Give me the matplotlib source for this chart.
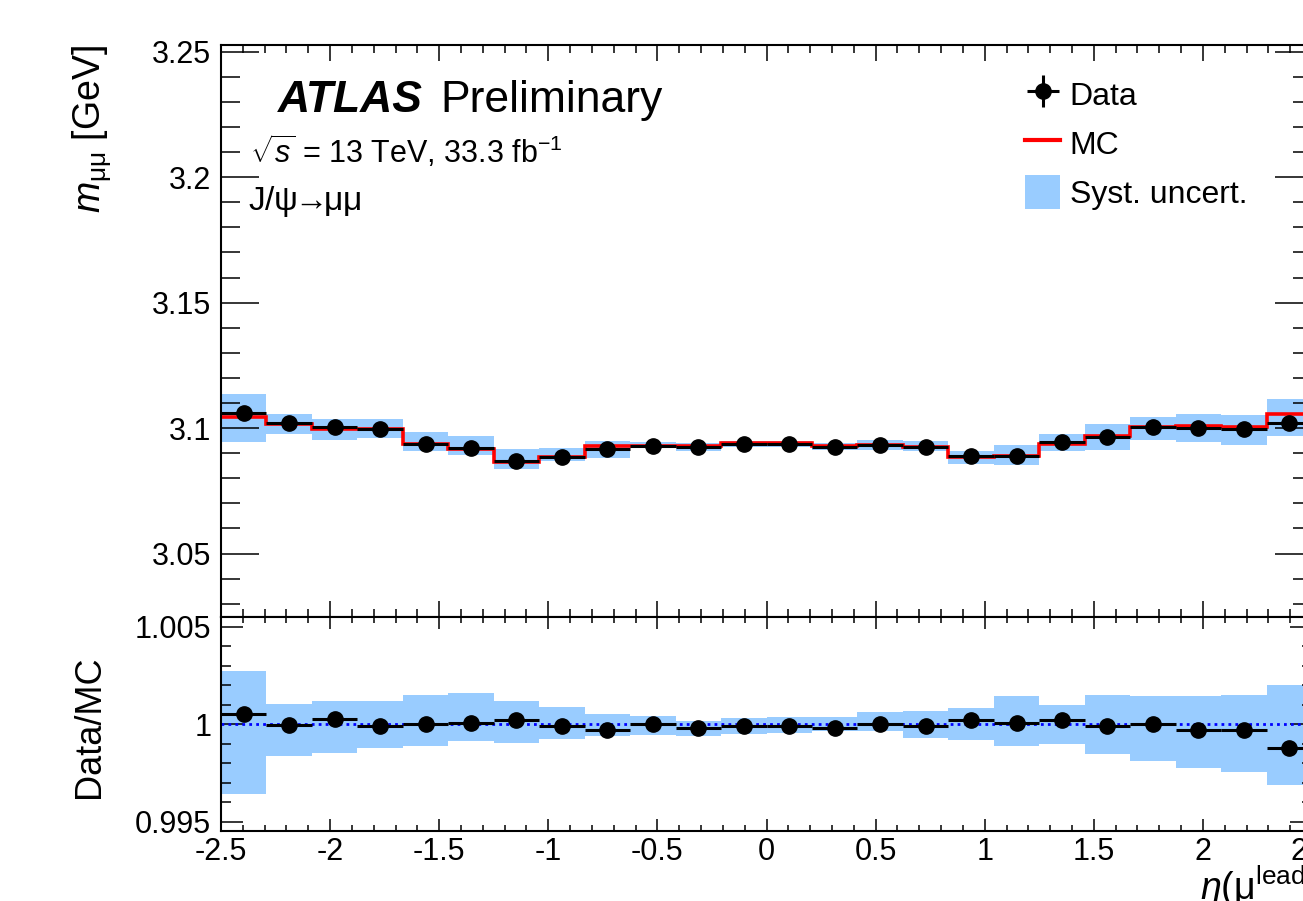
import numpy as np
import matplotlib
matplotlib.use("Agg")
import matplotlib.pyplot as plt
from matplotlib.lines import Line2D
from matplotlib.patches import Patch
from matplotlib.ticker import MultipleLocator

plt.rcParams['font.family'] = ['Liberation Sans', 'DejaVu Sans']
plt.rcParams['mathtext.fontset'] = 'custom'
plt.rcParams['mathtext.rm'] = 'Liberation Sans'
plt.rcParams['mathtext.it'] = 'Liberation Sans:italic'
plt.rcParams['mathtext.bf'] = 'Liberation Sans:bold'

# ---------------- data ----------------
bin_edges = np.linspace(-2.5, 2.5, 25)

data_vals = [3.1060, 3.1020, 3.1004, 3.0995, 3.0937, 3.0920, 3.0870, 3.0883,
             3.0918, 3.0930, 3.0923, 3.0937, 3.0937, 3.0923, 3.0933, 3.0923,
             3.0890, 3.0890, 3.0945, 3.0966, 3.1006, 3.1000, 3.0997, 3.1020]

mc_vals = [3.1043, 3.1018, 3.0995, 3.0997, 3.0936, 3.0917, 3.0864, 3.0885,
           3.0927, 3.0930, 3.0929, 3.0940, 3.0940, 3.0929, 3.0932, 3.0926,
           3.0884, 3.0887, 3.0938, 3.0969, 3.1005, 3.1009, 3.1006, 3.1056]

syst_hi = [3.1135, 3.1057, 3.1036, 3.1036, 3.0986, 3.0967, 3.0918, 3.0920,
           3.0947, 3.0944, 3.0940, 3.0947, 3.0947, 3.0940, 3.0953, 3.0947,
           3.0910, 3.0933, 3.0975, 3.1017, 3.1046, 3.1057, 3.1053, 3.1116]
syst_lo = [3.0944, 3.0977, 3.0953, 3.0960, 3.0907, 3.0894, 3.0838, 3.0867,
           3.0880, 3.0920, 3.0910, 3.0923, 3.0923, 3.0911, 3.0911, 3.0907,
           3.0858, 3.0854, 3.0908, 3.0914, 3.0951, 3.0943, 3.0933, 3.0969]

ratio_vals = [1.00054, 0.99997, 1.00028, 0.99989, 1.00000, 1.00009, 1.00020, 0.99992,
              0.99972, 1.00000, 0.99980, 0.99992, 0.99992, 0.99980, 1.00003, 0.99989,
              1.00020, 1.00007, 1.00021, 0.99990, 1.00003, 0.99972, 0.99972, 0.99878]

ratio_hi = [1.00272, 1.00106, 1.00118, 1.00118, 1.00149, 1.00161, 1.00118, 1.00089,
            1.00054, 1.00045, 1.00018, 1.00032, 1.00037, 1.00040, 1.00061, 1.00066,
            1.00083, 1.00143, 1.00097, 1.00152, 1.00143, 1.00143, 1.00152, 1.00203]
ratio_lo = [0.99642, 0.99838, 0.99855, 0.99877, 0.99889, 0.99915, 0.99906, 0.99927,
            0.99941, 0.99946, 0.99941, 0.99950, 0.99955, 0.99963, 0.99963, 0.99932,
            0.99917, 0.99889, 0.99899, 0.99848, 0.99809, 0.99775, 0.99757, 0.99689]

xtick_vals = [-2.5, -2, -1.5, -1, -0.5, 0, 0.5, 1, 1.5, 2, 2.5]
xtick_labels = ['-2.5', '-2', '-1.5', '-1', '-0.5', '0', '0.5', '1', '1.5', '2', '2.5']
ytop_ticks = [3.05, 3.1, 3.15, 3.2, 3.25]
ytop_labels = ['3.05', '3.1', '3.15', '3.2', '3.25']
yrat_ticks = [0.995, 1.0, 1.005]
yrat_labels = ['0.995', '1', '1.005']

# ---------------- figure ----------------
W, H = 1303, 901
fig = plt.figure(figsize=(W / 100, H / 100), dpi=100)

left_px, right_px = 221, 1312
top_px, mid_px, bot_px = 45, 617, 831

def fr(x0, y0, x1, y1):
    return [x0 / W, 1 - y1 / H, (x1 - x0) / W, (y1 - y0) / H]

ax = fig.add_axes(fr(left_px, top_px, right_px, mid_px))
axr = fig.add_axes(fr(left_px, mid_px, right_px, bot_px), sharex=ax)

edges = np.asarray(bin_edges)
centers = 0.5 * (edges[:-1] + edges[1:])
halfw = 0.5 * (edges[1:] - edges[:-1])

band_color = '#99ccff'

# top panel
ax.stairs(syst_hi, edges, baseline=syst_lo, fill=True, color=band_color, lw=0, zorder=1)
ax.stairs(mc_vals, edges, baseline=None, color='#ff0000', lw=2.6, zorder=2)
eb = ax.errorbar(centers, data_vals, xerr=halfw, yerr=np.zeros(len(centers)), fmt='o',
                 color='black', ms=11, elinewidth=2.2, capsize=0, zorder=3)

# ratio panel
axr.stairs(ratio_hi, edges, baseline=ratio_lo, fill=True, color=band_color, lw=0, zorder=1)
axr.axhline(1.0, color='#0000ff', lw=2.0, ls=(0, (1, 1.5)), zorder=2)
axr.errorbar(centers, ratio_vals, xerr=halfw, fmt='o', color='black', ms=11,
             elinewidth=2.2, capsize=0, zorder=3)

ax.set_xlim(-2.5, 2.5)
ax.set_ylim(3.0247, 3.2527)
axr.set_ylim(0.99452, 1.00551)

for a in (ax, axr):
    for s in a.spines.values():
        s.set_linewidth(1.5)
    a.xaxis.set_minor_locator(MultipleLocator(0.1))
    a.tick_params(which='both', direction='in', top=True, right=True, width=1.1,
                  labelsize=22, colors='black')

ax.set_yticks(ytop_ticks)
ax.set_yticklabels(ytop_labels)
ax.yaxis.set_minor_locator(MultipleLocator(0.01))
ax.tick_params(axis='y', which='major', length=27, pad=7)
ax.tick_params(axis='y', which='minor', length=14)
ax.tick_params(axis='x', which='major', length=11.5)
ax.tick_params(axis='x', which='minor', length=6)
ax.tick_params(axis='x', labelbottom=False)

axr.set_yticks(yrat_ticks)
axr.set_yticklabels(yrat_labels)
axr.yaxis.set_minor_locator(MultipleLocator(0.001))
axr.tick_params(axis='y', which='major', length=16, pad=7)
axr.tick_params(axis='y', which='minor', length=7.5)
axr.tick_params(axis='x', which='major', length=8.5, pad=4)
axr.tick_params(axis='x', which='minor', length=4.5)
axr.set_xticks(xtick_vals)
axr.set_xticklabels(xtick_labels)

# axis titles
fig.text(92 / W, 1 - 45 / H, r'$m_{\mathrm{\mu\mu}}$ [GeV]', rotation=90,
         ha='center', va='top', fontsize=27)
fig.text(90 / W, 1 - 727 / H, 'Data/MC', rotation=90, ha='center', va='center',
         fontsize=26)
fig.text(1200 / W, 1 - 900 / H, r'$\mathit{\eta}(\mathrm{\mu}^{\mathrm{lead}})$',
         ha='left', va='baseline', fontsize=27)

# labels
fig.text(278 / W, 1 - 112 / H, 'ATLAS', fontsize=32, weight='bold', style='italic',
         va='baseline', ha='left')
fig.text(440 / W, 1 - 112 / H, 'Preliminary', fontsize=32, va='baseline', ha='left')
fig.text(250 / W, 1 - 163 / H, r'$\sqrt{s}$ = 13 TeV, 33.3 fb$^{\mathrm{-1}}$',
         fontsize=22, va='baseline', ha='left')
fig.text(248 / W, 1 - 210 / H, r'J/ψ$\!\!\rightarrow\!\!$μμ', fontsize=24,
         va='baseline', ha='left')

# legend
handles = [eb,
           Line2D([], [], color='#ff0000', lw=3),
           Patch(facecolor=band_color, edgecolor='none')]
labels = ['Data', 'MC', 'Syst. uncert.']
leg = ax.legend(handles, labels, loc='upper left', bbox_to_anchor=(1025 / W, 1 - 77 / H),
                bbox_transform=fig.transFigure, frameon=False, fontsize=23,
                handlelength=1.1, handleheight=1.25, handletextpad=0.3,
                labelspacing=0.45, borderpad=0, borderaxespad=0)

fig.savefig('out.png', dpi=100)
